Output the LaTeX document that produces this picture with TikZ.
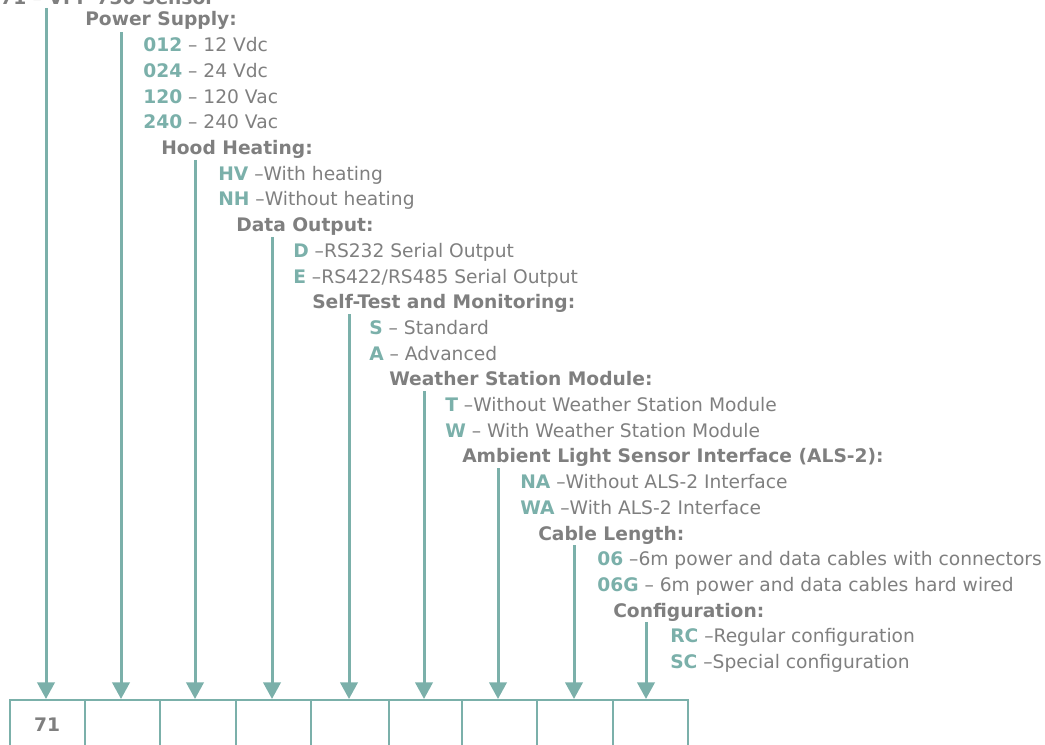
\documentclass[tikz,border=0pt]{standalone}
\usepackage{fontspec}
\setmainfont{DejaVu Sans}
\usetikzlibrary{arrows.meta}
\definecolor{cteal}{HTML}{7BB0AA}
\definecolor{ink}{HTML}{7F7F7F}
\newcommand{\cd}[1]{\textcolor{cteal}{\bfseries #1}}

\begin{document}
\begin{tikzpicture}[x=0.75pt,y=-0.75pt,
    hd/.style={font=\fontsize{14}{16}\selectfont\bfseries,color=ink,anchor=base west,inner sep=0pt},
    opt/.style={font=\fontsize{14}{16}\selectfont,color=ink,anchor=base west,inner sep=0pt},
    cell/.style={draw=cteal,line width=1.5pt,minimum height=52.5pt,inner sep=0pt},
    arr/.style={-{Triangle[width=13pt,length=12.5pt]},draw=cteal,fill=cteal,line width=2.25pt}]
  \useasboundingbox (0,0) rectangle (1045,745);
  % title row, cut by the page edge
  \node[hd] (ttl) at (0,4.5) {71 -- VPF-730 Sensor};
  % option groups
  \node[hd] (hps) at (85,26) {Power Supply:};
  \node[opt] (o012) at (143,51.7) {\cd{012} -- 12 Vdc};
  \node[opt] (o024) at (143,77.4) {\cd{024} -- 24 Vdc};
  \node[opt] (o120) at (143,103.1) {\cd{120} -- 120 Vac};
  \node[opt] (o240) at (143,128.8) {\cd{240} -- 240 Vac};
  \node[hd] (hhh) at (161,154.5) {Hood Heating:};
  \node[opt] (ohv) at (218,180.2) {\cd{HV} --With heating};
  \node[opt] (onh) at (218,205.9) {\cd{NH} --Without heating};
  \node[hd] (hdo) at (236,231.6) {Data Output:};
  \node[opt] (od) at (293,257.3) {\cd{D} --RS232 Serial Output};
  \node[opt] (oe) at (293,283) {\cd{E} --RS422/RS485 Serial Output};
  \node[hd] (hst) at (312,308.7) {Self-Test and Monitoring:};
  \node[opt] (os) at (369,334.4) {\cd{S} -- Standard};
  \node[opt] (oa) at (369,360.1) {\cd{A} -- Advanced};
  \node[hd] (hws) at (389,385.8) {Weather Station Module:};
  \node[opt] (ot) at (445,411.5) {\cd{T} --Without Weather Station Module};
  \node[opt] (ow) at (445,437.2) {\cd{W} -- With Weather Station Module};
  \node[hd] (hal) at (462,462.9) {Ambient Light Sensor Interface (ALS-2):};
  \node[opt] (ona) at (520,488.6) {\cd{NA} --Without ALS-2 Interface};
  \node[opt] (owa) at (520,514.3) {\cd{WA} --With ALS-2 Interface};
  \node[hd] (hcl) at (538,540) {Cable Length:};
  \node[opt] (o06) at (597,565.7) {\cd{06} --6m power and data cables with connectors};
  \node[opt] (o06g) at (597,591.4) {\cd{06G} -- 6m power and data cables hard wired};
  \node[hd] (hcf) at (613,617.1) {Configuration:};
  \node[opt] (orc) at (670,642.8) {\cd{RC} --Regular configuration};
  \node[opt] (osc) at (670,668.5) {\cd{SC} --Special configuration};
  % code boxes and arrows
  \foreach \i/\l/\r/\ax/\ty in {1/10/85/46/8, 2/85/160/121/32, 3/160/236/195/160,
      4/236/311/272/237, 5/311/389/349/314, 6/389/462/424/391,
      7/462/537/498/468, 8/537/613/574/545, 9/613/688/646/622} {
    \node[cell,minimum width={(\r-\l)*0.75pt}] (c\i) at ({(\l+\r)/2},735) {};
    \coordinate (t\i) at (\ax,\ty);
    \draw[arr] (t\i) -- (t\i |- c\i.north);
  }
  \node[hd,anchor=base] (n71) at (47,731) {71};
\end{tikzpicture}
\end{document}
